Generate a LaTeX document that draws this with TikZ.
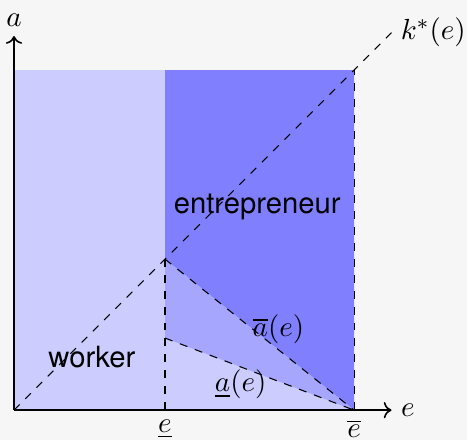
\documentclass[tikz,border=0pt]{standalone}
\usepackage{amsmath,amssymb}
\usepackage{fontspec}
\setsansfont{TeX Gyre Heros}
\usepackage{tikz}
\usetikzlibrary{arrows.meta,positioning,calc}
\usepackage{xcolor}
\definecolor{bgcolor}{RGB}{246,246,246}
\definecolor{workercolor}{RGB}{204,204,255}
\definecolor{midcolor}{RGB}{166,166,255}
\definecolor{entrecolor}{RGB}{128,128,255}

\begin{document}
\begin{tikzpicture}[x=0.45cm, y=0.45cm, every node/.style={font=\fontsize{11}{13}\selectfont}]
        \useasboundingbox[fill=bgcolor] (-0.412,-0.882) rectangle (13.32,12.06);
        \coordinate (O) at (0,0);
        \coordinate (elow) at (4.44,0);
        \coordinate (ehigh) at (10,0);
        \coordinate (kink) at (4.44,4.44);
        \coordinate (alow) at (4.44,2.12);
        \coordinate (topL) at (0,10);
        \coordinate (topR) at (10,10);
        \coordinate (topM) at (4.44,10);
        % regions
        \fill[workercolor] (O) rectangle (topR);
        \fill[entrecolor] (topM) -- (topR) -- (ehigh) -- (kink) -- cycle;
        \fill[midcolor] (kink) -- (ehigh) -- (alow) -- cycle;
        \node[font=\sffamily\fontsize{11}{13}\selectfont] (entre) at (7.15,5.97) {entrepreneur};
        \node[font=\sffamily\fontsize{11}{13}\selectfont] (work) at (2.29,1.56) {worker};
        % boundaries
        \draw[dashed] (O) -- (11.1,11.1) node[right] (kstar) {$k^*(e)$};
        \draw[dashed] (kink) -- (ehigh)
          node[pos=0.6, above, inner sep=2pt] (abar) {$\overline{a}(e)$};
        \draw[dashed] (alow) -- (ehigh)
          node[pos=0.4, below, inner sep=1pt] (aunder) {$\underline{a}(e)$};
        \draw[dashed] (elow) -- (kink);
        \draw[dashed] (ehigh) -- (topR);
        % axes
        \draw[->,semithick] (O) -- (11.1,0) node[right] (xlab) {$e$};
        \draw[->,semithick] (O) -- (0,11) node[above] (ylab) {$a$};
        \node[below] (elowlab) at (elow) {$\underline{e}$};
        \node[below] (ehighlab) at (ehigh) {$\overline{e}$};
      \end{tikzpicture}
\end{document}
